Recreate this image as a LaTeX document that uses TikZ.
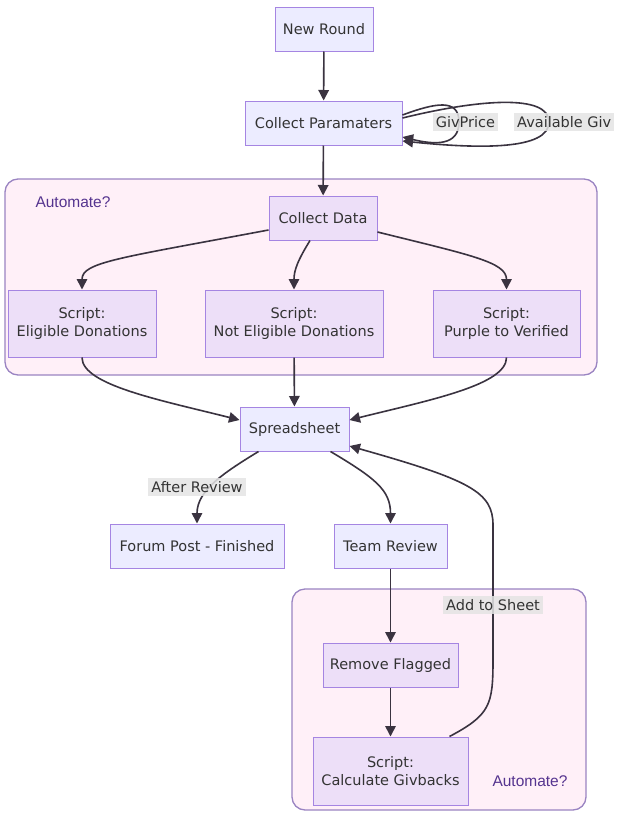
\documentclass[tikz,border=0pt]{standalone}
\usepackage{fontspec}
\setmainfont{DejaVu Sans}
\newfontfamily\titlefont{Liberation Sans}
\usetikzlibrary{arrows.meta}

\definecolor{nodefill}{HTML}{ECECFF}
\definecolor{innerfill}{HTML}{EDDFF8}
\definecolor{nodeline}{HTML}{A585E2}
\definecolor{clusterfill}{HTML}{FFF0F8}
\definecolor{clusterline}{HTML}{9A84C2}
\definecolor{edgecol}{HTML}{3A3340}
\definecolor{labelbg}{HTML}{E4E4E4}
\definecolor{titlecol}{HTML}{55348F}
\definecolor{textcol}{HTML}{333333}

\begin{document}
\begin{tikzpicture}[x=1pt,y=-1pt,
  box/.style={draw=nodeline,fill=nodefill,line width=1pt,inner sep=0pt,
    align=center,text=textcol,font=\fontsize{14.5}{18}\selectfont},
  inner/.style={box,fill=innerfill},
  cluster/.style={draw=clusterline,fill=clusterfill,line width=1.3pt,rounded corners=13pt},
  flow/.style={draw=edgecol,line width=1.6pt,
    -{Triangle[length=10.5pt,width=10.5pt]}},
  elabel/.style={fill=labelbg,fill opacity=0.85,text opacity=1,inner sep=3pt,
    text=textcol,font=\fontsize{14.5}{16}\selectfont},
  ctitle/.style={text=titlecol,font=\titlefont\fontsize{15.5}{17}\selectfont},
]
\useasboundingbox[fill=white] (0,0) rectangle (616,814);

% subgraph frames
\draw[cluster] (5,179) rectangle (597,375);
\draw[cluster] (292,589) rectangle (586,810);
\node[ctitle] (t1) at (73,202) {Automate?};
\node[ctitle] (t2) at (530,781) {Automate?};

% nodes
\node[box,minimum width=98pt,minimum height=44pt] (round) at (324,29) {New Round};
\node[box,minimum width=157pt,minimum height=44pt] (params) at (323.5,123) {Collect Paramaters};
\node[inner,minimum width=108pt,minimum height=44pt] (data) at (323,218) {Collect Data};
\node[inner,minimum width=148pt,minimum height=67pt] (elig) at (82,323.5) {Script:\\Eligible Donations};
\node[inner,minimum width=178pt,minimum height=67pt] (notelig) at (294,323.5) {Script:\\Not Eligible Donations};
\node[inner,minimum width=147pt,minimum height=67pt] (purple) at (506.5,323.5) {Script:\\Purple to Verified};
\node[box,minimum width=109pt,minimum height=44pt] (sheet) at (294.5,429) {Spreadsheet};
\node[box,minimum width=174pt,minimum height=44pt] (forum) at (197,546) {Forum Post - Finished};
\node[box,minimum width=113pt,minimum height=44pt] (team) at (390.5,546) {Team Review};
\node[inner,minimum width=135pt,minimum height=44pt] (removed) at (390.5,665) {Remove Flagged};
\node[inner,minimum width=155pt,minimum height=68pt] (calc) at (390.5,771) {Script:\\Calculate Givbacks};

% connectors
\draw[flow] (round) -- (params);
\draw[flow] (params) -- (data);
\draw[flow] ([yshift=-12pt]data.west) .. controls (120,258) and (82,262) .. (elig.north);
\draw[flow] ([xshift=-13pt]data.south) .. controls (298,260) and (294,270) .. (notelig.north);
\draw[flow] ([yshift=-14pt]data.east) .. controls (470,255) and (506.5,262) .. (purple.north);
\draw[flow] (elig.south) .. controls (82,385) and (160,400) .. ([yshift=9pt]sheet.west);
\draw[flow] (notelig) -- (sheet);
\draw[flow] (purple.south) .. controls (506.5,385) and (430,400) .. ([yshift=9pt]sheet.east);
\draw[flow] ([xshift=-36pt]sheet.south) .. controls (225,472) and (197,490) .. (forum.north);
\draw[flow] ([xshift=36pt]sheet.south) .. controls (375,478) and (390.5,490) .. (team.north);
\draw[flow] (team) -- (removed);
\draw[flow] (removed) -- (calc);
\draw[flow] ([xshift=59pt]calc.north) .. controls (490,715) and (493,705) .. (493,660)
  -- (493,525) .. controls (493,492) and (470,480) .. ([yshift=-17pt]sheet.east);

% parameter loops
\draw[flow] ([yshift=8pt]params.east) .. controls (435,103) and (459,98) .. (459,122)
  .. controls (459,146) and (435,145) .. ([yshift=-14pt]params.east);
\draw[flow] ([yshift=5pt]params.east) .. controls (480,99) and (549,94) .. (549,122)
  .. controls (549,150) and (480,149) .. ([yshift=-18pt]params.east);

% edge labels
\node[elabel] (lgiv) at (465.5,122) {GivPrice};
\node[elabel,anchor=west] (lavail) at (514,122) {Available Giv};
\node[elabel] (lafter) at (197,487) {After Review};
\node[elabel] (ladd) at (493,605) {Add to Sheet};
\end{tikzpicture}
\end{document}
